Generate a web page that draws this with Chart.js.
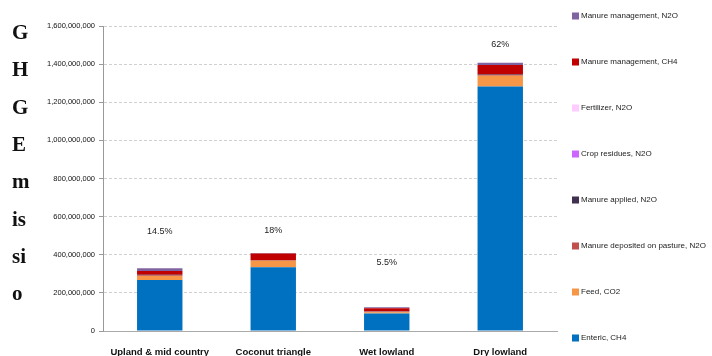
<!DOCTYPE html>
<html>
<head>
<meta charset="utf-8">
<script src="https://cdn.jsdelivr.net/npm/chart.js@4"></script>
<style>
  html, body { margin: 0; padding: 0; background: #fff; }
  #wrap { width: 712px; height: 356px; }
</style>
</head>
<body>
<div id="wrap"><canvas id="ghgChart"></canvas></div>
<script>
// regions and emission sources (kg CO2-eq)
const regions = ['Upland & mid country', 'Coconut triangle', 'Wet lowland', 'Dry lowland'];
const enteric = [267e6, 334e6, 92e6, 1282e6];
const feed = [22e6, 35e6, 7e6, 57e6];
const manureDeposited = [4e6, 3e6, 3e6, 4e6];
const manureApplied = [2e6, 1e6, 1e6, 2e6];
const cropResidues = [0, 0, 0, 0];
const fertilizer = [0, 0, 0, 0];
const manureMgmtCH4 = [20e6, 33e6, 17e6, 50e6];
const manureMgmtN2O = [14e6, 3e6, 5e6, 12e6];
const shareLabels = ['14.5%', '18%', '5.5%', '62%'];
const yTicks = [0, 200e6, 400e6, 600e6, 800e6, 1000e6, 1200e6, 1400e6, 1600e6];
const titleLines = ['G', 'H', 'G', 'E', 'm', 'is', 'si', 'o'];

// how far above each stack the share text sits (px)
const shareOffsets = [37, 23, 45, 18];

const series = [
    { label: 'Enteric, CH4', data: enteric, color: '#0070C0' },
    { label: 'Feed, CO2', data: feed, color: '#F79646' },
    { label: 'Manure deposited on pasture, N2O', data: manureDeposited, color: '#C0504D' },
    { label: 'Manure applied, N2O', data: manureApplied, color: '#403151' },
    { label: 'Crop residues, N2O', data: cropResidues, color: '#CC66FF' },
    { label: 'Fertilizer, N2O', data: fertilizer, color: '#FFCCFF' },
    { label: 'Manure management, CH4', data: manureMgmtCH4, color: '#C00000' },
    { label: 'Manure management, N2O', data: manureMgmtN2O, color: '#8064A2' }
];

const fmt = v => v.toLocaleString('en-US');

// vertical axis title, one chunk per line
const yTitlePlugin = {
    id: 'yTitle',
    afterDraw(chart) {
        const ctx = chart.ctx;
        ctx.save();
        ctx.font = 'bold 21px "Liberation Serif", "DejaVu Serif", serif';
        ctx.fillStyle = '#111';
        ctx.textAlign = 'left';
        ctx.textBaseline = 'alphabetic';
        titleLines.forEach((t, i) => ctx.fillText(t, 12, 39 + i * 37.3));
        ctx.restore();
    }
};

// share of total above each stack
const sharePlugin = {
    id: 'shareLabels',
    afterDatasetsDraw(chart) {
        const ctx = chart.ctx;
        const xs = chart.scales.x, ys = chart.scales.y;
        ctx.save();
        ctx.font = '9px "Liberation Sans", sans-serif';
        ctx.fillStyle = '#222';
        ctx.textAlign = 'center';
        ctx.textBaseline = 'middle';
        regions.forEach((r, i) => {
            const total = chart.data.datasets.reduce((s, d) => s + d.data[i], 0);
            ctx.fillText(shareLabels[i], xs.getPixelForValue(i), ys.getPixelForValue(total) - shareOffsets[i]);
        });
        ctx.restore();
    }
};

// legend down the right side, top of stack first
const sideLegend = {
    id: 'sideLegend',
    afterDraw(chart) {
        const ctx = chart.ctx;
        const sets = chart.data.datasets.slice().reverse();
        ctx.save();
        ctx.font = '8px "Liberation Sans", sans-serif';
        ctx.textAlign = 'left';
        ctx.textBaseline = 'middle';
        sets.forEach((d, i) => {
            const y = 16 + i * 46;
            ctx.fillStyle = d.backgroundColor;
            ctx.fillRect(572, y - 3.5, 7, 7);
            ctx.fillStyle = '#222';
            ctx.fillText(d.label, 581, y);
        });
        ctx.restore();
    }
};

new Chart(document.getElementById('ghgChart'), {
    type: 'bar',
    data: {
        labels: regions,
        datasets: series.map(s => ({
            label: s.label,
            data: s.data,
            backgroundColor: s.color,
            borderWidth: 0,
            barPercentage: 0.8,
            categoryPercentage: 0.5
        }))
    },
    options: {
        responsive: true,
        maintainAspectRatio: false,
        animation: false,
        layout: { padding: { left: 40, right: 155, top: 26, bottom: 0 } },
        plugins: {
            legend: { display: false },
            tooltip: { enabled: false }
        },
        scales: {
            x: {
                stacked: true,
                grid: { display: false },
                border: { display: true, color: '#aaa', width: 1 },
                ticks: {
                    color: '#111',
                    padding: 8,
                    font: { family: '"Liberation Sans", sans-serif', size: 9.5, weight: 'bold' }
                },
                afterFit(scale) { scale.height = 25; }
            },
            y: {
                stacked: true,
                min: 0,
                max: 1600e6,
                afterBuildTicks(scale) { scale.ticks = yTicks.map(v => ({ value: v })); },
                grid: {
                    color: '#d0d0d0',
                    tickColor: '#999',
                    tickBorderDash: [],
                    tickLength: 4
                },
                border: { display: true, color: '#999', width: 1, dash: [3, 2] },
                ticks: {
                    color: '#111',
                    padding: 4,
                    font: { family: '"Liberation Sans", sans-serif', size: 7.5 },
                    callback: v => fmt(v)
                },
                afterFit(scale) { scale.width = 63; }
            }
        }
    },
    plugins: [yTitlePlugin, sharePlugin, sideLegend]
});
</script>
</body>
</html>
